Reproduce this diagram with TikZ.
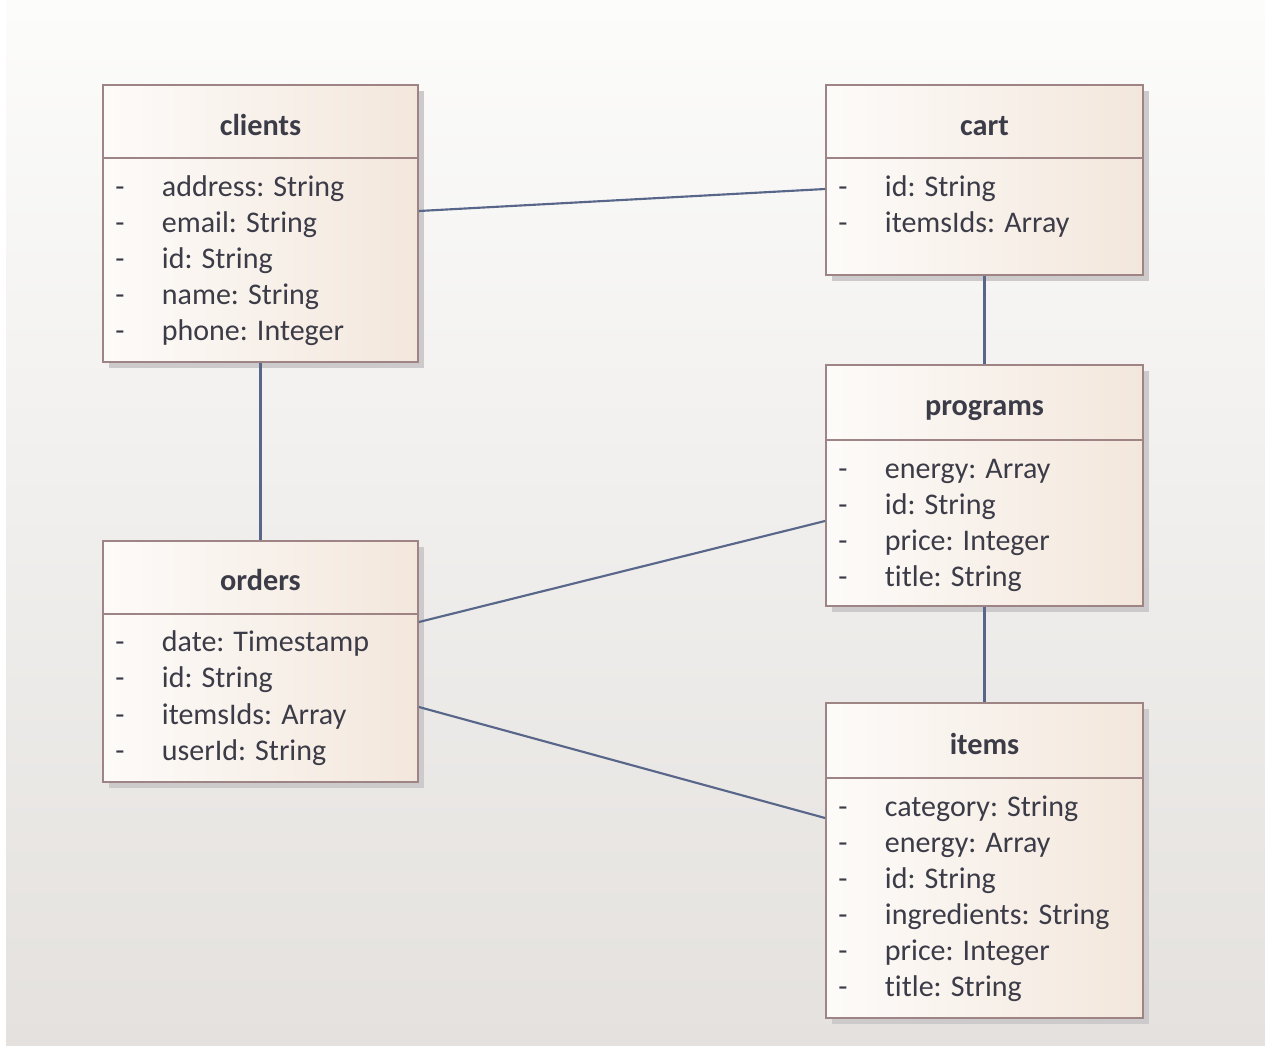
\documentclass[tikz,border=0pt]{standalone}
\usepackage{fontspec}
\setmainfont{Carlito}[Ligatures=NoCommon]
\usepackage{xcolor}

\definecolor{boxline}{RGB}{158,132,132}
\definecolor{boxleft}{RGB}{253,251,249}
\definecolor{boxright}{RGB}{243,231,220}
\definecolor{linkc}{RGB}{88,102,138}
\definecolor{txtc}{RGB}{60,60,72}
\definecolor{shadowc}{RGB}{204,202,202}
\definecolor{bgtop}{RGB}{252,252,251}
\definecolor{bgbot}{RGB}{228,225,222}

\tikzset{
  classbox/.style={draw=boxline, line width=1.4pt, left color=boxleft, right color=boxright, inner sep=0pt},
  classname/.style={anchor=base, font=\fontsize{22.7}{27}\selectfont\bfseries, text=txtc, inner sep=0.75pt},
  attr/.style={anchor=base west, text=txtc, inner sep=0.75pt},
  sepline/.style={draw=boxline, line width=1.4pt},
  link/.style={draw=linkc, line width=1.6pt},
}

\begin{document}
\begin{tikzpicture}[x=0.75pt,y=0.75pt,yscale=-1,xscale=1,font=\fontsize{22.5}{27}\selectfont]
\useasboundingbox (0,0) rectangle (1265,1046);

%Background
\shade[top color=bgtop, bottom color=bgbot] (6,0) rectangle (1265,1046);

%Shadows
\fill[shadowc] (109,91) rectangle (424,368);
\fill[shadowc] (832,91) rectangle (1149,281);
\fill[shadowc] (832,371) rectangle (1149,612);
\fill[shadowc] (109,547) rectangle (424,788);
\fill[shadowc] (832,709) rectangle (1149,1024);

%Shape: Class clients
\node[classbox, minimum width=236.25pt, minimum height=207.75pt] (clients) at (260.5,223.5) {};
\draw[sepline] (clients.west |- 0,158) -- (clients.east |- 0,158);
% Text Node
\node[classname] (clients-name) at (260.5,135) {clients};
\foreach \a [count=\i] in {address: String, email: String, id: String, name: String, phone: Integer}
  \node[attr] (clients-\i) at (114,160+36*\i) {\makebox[35pt][l]{-}\a};

%Shape: Class cart
\node[classbox, minimum width=237.75pt, minimum height=142.5pt] (cart) at (984.5,180) {};
\draw[sepline] (cart.west |- 0,158) -- (cart.east |- 0,158);
% Text Node
\node[classname] (cart-name) at (984.5,135) {cart};
\foreach \a [count=\i] in {id: String, itemsIds: Array}
  \node[attr] (cart-\i) at (837,160+36*\i) {\makebox[35pt][l]{-}\a};

%Shape: Class programs
\node[classbox, minimum width=237.75pt, minimum height=180.75pt] (programs) at (984.5,485.5) {};
\draw[sepline] (programs.west |- 0,440) -- (programs.east |- 0,440);
% Text Node
\node[classname] (programs-name) at (984.5,415) {programs};
\foreach \a [count=\i] in {energy: Array, id: String, price: Integer, title: String}
  \node[attr] (programs-\i) at (837,442+36*\i) {\makebox[35pt][l]{-}\a};

%Shape: Class orders
\node[classbox, minimum width=236.25pt, minimum height=180.75pt] (orders) at (260.5,661.5) {};
\draw[sepline] (orders.west |- 0,614) -- (orders.east |- 0,614);
% Text Node
\node[classname] (orders-name) at (260.5,590) {orders};
\foreach \a [count=\i] in {date: Timestamp, id: String, itemsIds: Array, userId: String}
  \node[attr] (orders-\i) at (114,614.5+36.5*\i) {\makebox[35pt][l]{-}\a};

%Shape: Class items
\node[classbox, minimum width=237.75pt, minimum height=236.25pt] (items) at (984.5,860.5) {};
\draw[sepline] (items.west |- 0,778) -- (items.east |- 0,778);
% Text Node
\node[classname] (items-name) at (984.5,754) {items};
\foreach \a [count=\i] in {category: String, energy: Array, id: String, ingredients: String, price: Integer, title: String}
  \node[attr] (items-\i) at (837,780+36*\i) {\makebox[35pt][l]{-}\a};

%Associations
\draw[link] ([shift={(0,-12.5)}]clients.east) -- ([shift={(0,9)}]cart.west);
\draw[link] (clients.south) -- (orders.north);
\draw[link] (cart.south) -- (programs.north);
\draw[link] ([shift={(0,-39.5)}]orders.east) -- ([shift={(0,35.5)}]programs.west);
\draw[link] ([shift={(0,45.5)}]orders.east) -- ([shift={(0,-42.5)}]items.west);
\draw[link] (programs.south) -- (items.north);

\end{tikzpicture}
\end{document}
